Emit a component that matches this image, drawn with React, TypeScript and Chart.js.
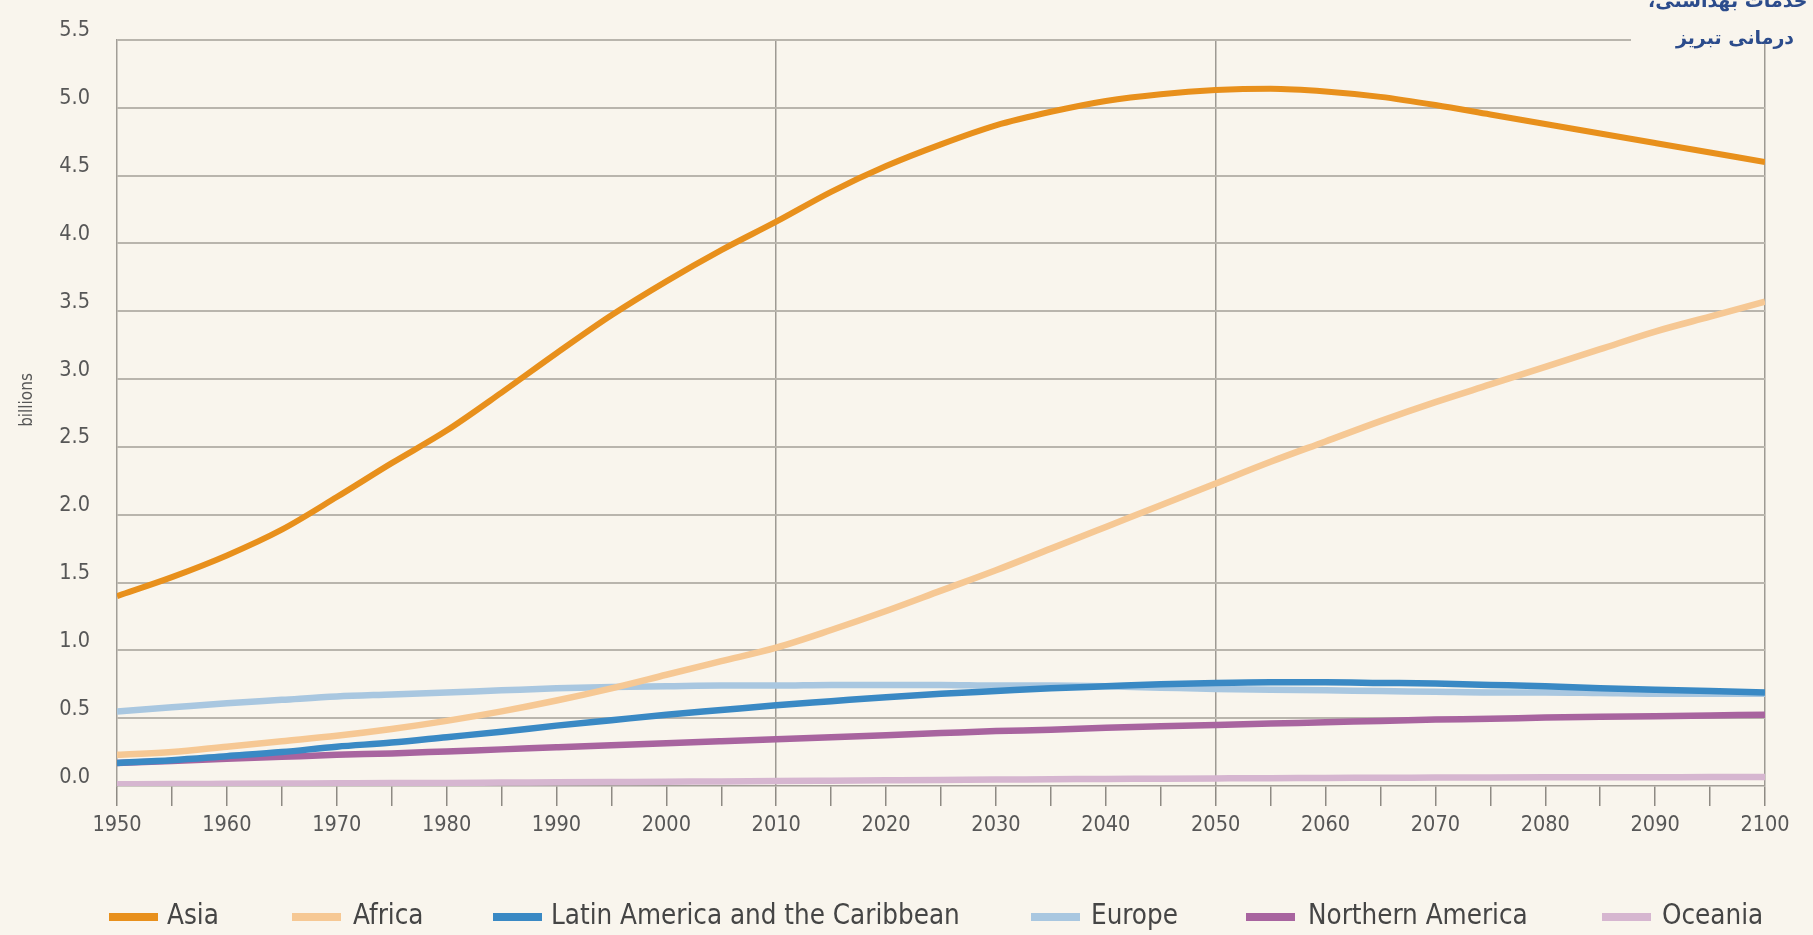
import React, { useEffect, useRef } from 'react';
import { Chart, registerables } from 'chart.js';

Chart.register(...registerables);

// ---------- data ----------
const YEARS = [
  1950, 1955, 1960, 1965, 1970, 1975, 1980, 1985, 1990, 1995, 2000,
  2005, 2010, 2015, 2020, 2025, 2030, 2035, 2040, 2045, 2050,
  2055, 2060, 2065, 2070, 2075, 2080, 2085, 2090, 2095, 2100,
];

const ASIA = [
  1.40, 1.54, 1.70, 1.89, 2.13, 2.38, 2.62, 2.90, 3.19, 3.47, 3.72,
  3.95, 4.16, 4.38, 4.57, 4.73, 4.87, 4.97, 5.05, 5.10, 5.13,
  5.14, 5.12, 5.08, 5.02, 4.95, 4.88, 4.81, 4.74, 4.67, 4.60,
];

const AFRICA = [
  0.23, 0.25, 0.29, 0.33, 0.37, 0.42, 0.48, 0.55, 0.63, 0.72, 0.82,
  0.92, 1.02, 1.15, 1.29, 1.44, 1.59, 1.75, 1.91, 2.07, 2.23,
  2.39, 2.54, 2.69, 2.83, 2.96, 3.09, 3.22, 3.35, 3.46, 3.57,
];

const LATIN_AMERICA = [
  0.17, 0.19, 0.22, 0.25, 0.29, 0.32, 0.36, 0.40, 0.445, 0.485, 0.525,
  0.56, 0.595, 0.625, 0.655, 0.68, 0.70, 0.72, 0.735, 0.75, 0.76,
  0.765, 0.765, 0.76, 0.755, 0.745, 0.735, 0.72, 0.71, 0.70, 0.69,
];

const EUROPE = [
  0.55, 0.58, 0.61, 0.635, 0.66, 0.675, 0.69, 0.705, 0.72, 0.73, 0.735,
  0.74, 0.74, 0.745, 0.745, 0.745, 0.74, 0.74, 0.735, 0.725, 0.715,
  0.71, 0.705, 0.70, 0.695, 0.69, 0.69, 0.685, 0.68, 0.68, 0.68,
];

const NORTHERN_AMERICA = [
  0.17, 0.185, 0.20, 0.215, 0.23, 0.24, 0.255, 0.27, 0.285, 0.30, 0.315,
  0.33, 0.345, 0.36, 0.375, 0.39, 0.405, 0.415, 0.43, 0.44, 0.45,
  0.46, 0.47, 0.48, 0.49, 0.495, 0.505, 0.51, 0.515, 0.52, 0.525,
];

const OCEANIA = [
  0.013, 0.014, 0.016, 0.018, 0.020, 0.022, 0.023, 0.025, 0.027, 0.029, 0.031,
  0.034, 0.036, 0.039, 0.042, 0.045, 0.047, 0.050, 0.052, 0.054, 0.056,
  0.058, 0.059, 0.061, 0.062, 0.063, 0.064, 0.065, 0.065, 0.066, 0.066,
];

const SERIES_NAMES = [
  'Asia',
  'Africa',
  'Latin America and the Caribbean',
  'Europe',
  'Northern America',
  'Oceania',
];
const SERIES_VALUES = [ASIA, AFRICA, LATIN_AMERICA, EUROPE, NORTHERN_AMERICA, OCEANIA];
const SERIES_COLORS = ['#E8901C', '#F6C894', '#3A89C4', '#A9C7E0', '#A8649F', '#D6B6D0'];

const Y_TITLE = 'billions';
const WATERMARK_LINE1 = 'دانشگاه علوم پزشکی و خدمات بهداشتی،';
const WATERMARK_LINE2 = 'درمانی تبریز';

// ---------- styling / layout ----------
const BG = '#F9F5ED';
const FONT = '"Liberation Sans Narrow", "DejaVu Sans Condensed", "Liberation Sans", sans-serif';
const TEXT = '#575757';
const HGRID = '#B9B5AD';
const VGRID = '#9E9A93';
const LEGEND_SWATCH_X = [109, 292, 493, 1031, 1246, 1602];
const LEGEND_TEXT_X = [167, 353, 551, 1091, 1308, 1662];

export default function App() {
  const ref = useRef<HTMLCanvasElement>(null);

  useEffect(() => {
    const canvas = ref.current;
    if (!canvas) return;

    const overlay = {
      id: 'overlay',
      afterDraw(chart: any) {
        const ctx = chart.ctx as CanvasRenderingContext2D;
        ctx.save();
        // y-axis title
        ctx.save();
        ctx.translate(28, 400);
        ctx.rotate(-Math.PI / 2);
        ctx.fillStyle = TEXT;
        ctx.font = `17px ${FONT}`;
        ctx.textAlign = 'center';
        ctx.textBaseline = 'middle';
        ctx.fillText(Y_TITLE, 0, 0);
        ctx.restore();

        // watermark box
        ctx.fillStyle = BG;
        ctx.fillRect(1631, 0, 1813 - 1631, 43);
        ctx.fillStyle = '#2C4C8C';
        ctx.font = 'bold 19px "DejaVu Sans", sans-serif';
        ctx.textBaseline = 'middle';
        (ctx as any).direction = 'rtl';
        ctx.textAlign = 'left';
        ctx.fillText(WATERMARK_LINE1, 1648, 2);
        ctx.textAlign = 'center';
        ctx.fillText(WATERMARK_LINE2, 1735, 39);
        (ctx as any).direction = 'ltr';

        // legend
        const y = 917;
        chart.data.datasets.forEach((ds: any, i: number) => {
          const x0 = LEGEND_SWATCH_X[i];
          ctx.strokeStyle = ds.borderColor;
          ctx.lineWidth = 8;
          ctx.lineCap = 'butt';
          ctx.beginPath();
          ctx.moveTo(x0, y);
          ctx.lineTo(x0 + 49, y);
          ctx.stroke();
          ctx.fillStyle = '#454545';
          ctx.font = `27.5px ${FONT}`;
          ctx.textAlign = 'left';
          ctx.textBaseline = 'middle';
          ctx.fillText(ds.label, LEGEND_TEXT_X[i], y);
        });
        ctx.restore();
      },
    };

    const chart = new Chart(canvas, {
      type: 'line',
      data: {
        datasets: SERIES_NAMES.map((name, i) => ({
          label: name,
          data: YEARS.map((yr, j) => ({ x: yr, y: SERIES_VALUES[i][j] })),
          borderColor: SERIES_COLORS[i],
          backgroundColor: SERIES_COLORS[i],
          borderWidth: i === 0 ? 6 : 6.5,
          pointRadius: 0,
          fill: false,
          cubicInterpolationMode: 'monotone',
        })),
      },
      options: {
        responsive: false,
        animation: false,
        devicePixelRatio: 1,
        layout: { padding: { left: 0, right: 48, top: 33, bottom: 0 } },
        plugins: {
          legend: { display: false },
          tooltip: { enabled: false },
        },
        scales: {
          x: {
            type: 'linear',
            min: 1950,
            max: 2100,
            afterFit: (s: any) => {
              s.height = 149;
            },
            ticks: {
              stepSize: 5,
              autoSkip: false,
              maxRotation: 0,
              minRotation: 0,
              padding: 7,
              color: TEXT,
              font: { family: FONT, size: 21.5 },
              callback: (v: any) => (Number(v) % 10 === 0 ? String(v) : ''),
            },
            grid: {
              color: (c: any) =>
                c.tick && [2010, 2050, 2100].includes(c.tick.value) ? VGRID : 'rgba(0,0,0,0)',
              lineWidth: 1.5,
              drawTicks: true,
              tickLength: 20,
              tickColor: '#8E8A83',
              tickWidth: 1.5,
            },
            border: { display: true, color: '#A29E97', width: 1.5 },
          },
          y: {
            type: 'linear',
            min: 0,
            max: 5.5,
            afterFit: (s: any) => {
              s.width = 117;
            },
            ticks: {
              stepSize: 0.5,
              padding: 27,
              labelOffset: -9,
              color: TEXT,
              font: { family: FONT, size: 21.5 },
              callback: (v: any) => Number(v).toFixed(1),
            },
            grid: {
              color: (c: any) => (c.tick && c.tick.value === 0 ? 'rgba(0,0,0,0)' : HGRID),
              lineWidth: 2,
              drawTicks: false,
            },
            border: { display: true, color: '#A29E97', width: 1.5 },
            title: { display: false },
          },
        },
      } as any,
      plugins: [overlay],
    });

    return () => chart.destroy();
  }, []);

  return (
    <div
      style={{
        position: 'fixed',
        left: 0,
        top: 0,
        width: 1813,
        height: 935,
        background: BG,
        overflow: 'hidden',
      }}
    >
      <canvas ref={ref} width={1813} height={935} style={{ display: 'block' }} />
    </div>
  );
}
